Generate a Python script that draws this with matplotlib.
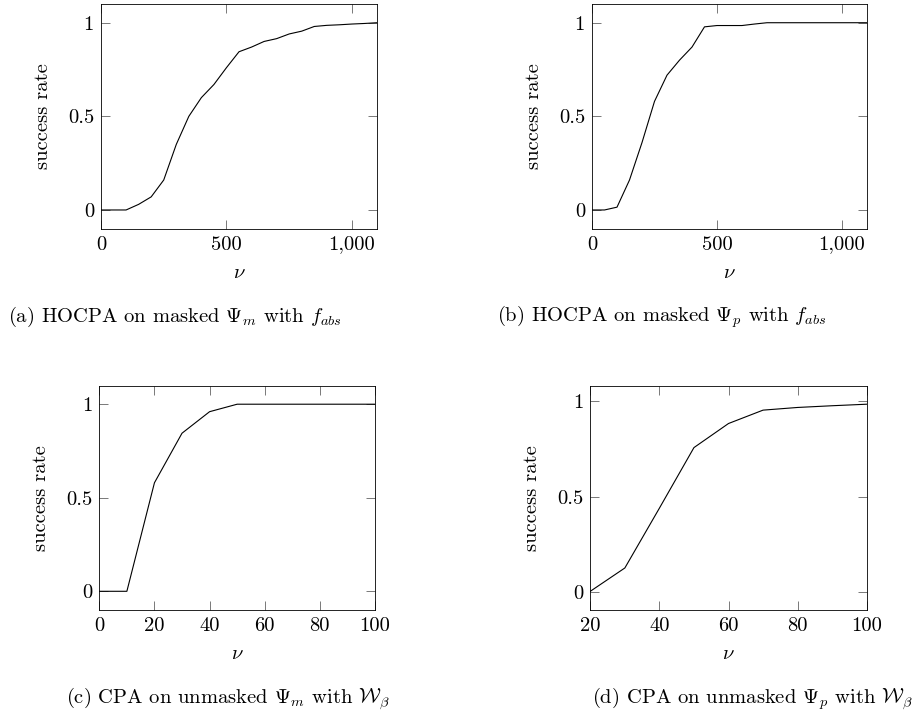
import matplotlib
matplotlib.use("Agg")
import matplotlib.pyplot as plt
import numpy as np

plt.rcParams['font.family'] = ['cmr10', 'DejaVu Serif']
plt.rcParams['mathtext.fontset'] = 'cm'
plt.rcParams['axes.unicode_minus'] = False
plt.rcParams['axes.formatter.use_mathtext'] = True

FS = 14.8

# ---- data ----
nu_a = [0, 50, 100, 150, 200, 250, 300, 350, 400, 450, 500, 550, 600, 650, 700,
        750, 800, 850, 900, 950, 1000, 1050, 1100]
sr_a = [0, 0, 0, 0.03, 0.07, 0.16, 0.35, 0.50, 0.60, 0.67, 0.76, 0.845, 0.87, 0.90,
        0.915, 0.94, 0.955, 0.98, 0.986, 0.989, 0.993, 0.996, 1.0]

nu_b = [0, 50, 100, 150, 200, 250, 300, 350, 400, 450, 500, 550, 600, 650, 700,
        750, 800, 850, 900, 950, 1000, 1050, 1100]
sr_b = [0, 0, 0.015, 0.16, 0.36, 0.58, 0.72, 0.80, 0.87, 0.978, 0.985, 0.985, 0.985,
        0.993, 1.0, 1.0, 1.0, 1.0, 1.0, 1.0, 1.0, 1.0, 1.0]

nu_c = [0, 10, 20, 30, 40, 50, 60, 70, 80, 90, 100]
sr_c = [0, 0, 0.58, 0.845, 0.96, 1.0, 1.0, 1.0, 1.0, 1.0, 1.0]

nu_d = [20, 30, 40, 50, 60, 70, 80, 90, 100]
sr_d = [0.005, 0.127, 0.44, 0.757, 0.883, 0.953, 0.967, 0.976, 0.984]

xt_a = [0, 500, 1000]; xtl_a = ["0", "500", "1,000"]
xt_b = [0, 500, 1000]; xtl_b = ["0", "500", "1,000"]
xt_c = [0, 20, 40, 60, 80, 100]; xtl_c = ["0", "20", "40", "60", "80", "100"]
xt_d = [20, 40, 60, 80, 100]; xtl_d = ["20", "40", "60", "80", "100"]
yt = [0, 0.5, 1]; ytl = ["0", "0.5", "1"]

captions = [r"(a) HOCPA on masked $\Psi_m$ with $f_{abs}$",
            r"(b) HOCPA on masked $\Psi_p$ with $f_{abs}$",
            r"(c) CPA on unmasked $\Psi_m$ with $\mathcal{W}_\beta$",
            r"(d) CPA on unmasked $\Psi_p$ with $\mathcal{W}_\beta$"]

W, H = 921, 713
fig = plt.figure(figsize=(W / 100, H / 100), dpi=100)

# axes boxes in pixels: left, top, right, bottom
boxes = [(101, 4, 377, 228.7), (592, 4, 867, 228.7),
         (99.3, 385.5, 375, 610), (590.3, 385.5, 866.7, 610)]
datasets = [(nu_a, sr_a, xt_a, xtl_a, (0, 1100)),
            (nu_b, sr_b, xt_b, xtl_b, (0, 1100)),
            (nu_c, sr_c, xt_c, xtl_c, (0, 100)),
            (nu_d, sr_d, xt_d, xtl_d, (20, 100))]

for (l, t, r, b), (x, y, xt, xtl, xl) in zip(boxes, datasets):
    ax = fig.add_axes([l / W, 1 - b / H, (r - l) / W, (b - t) / H])
    ax.plot(x, y, color='black', lw=0.8)
    ax.set_xlim(*xl)
    lo, hi = min(y), max(y)
    rng = hi - lo
    ax.set_ylim(lo - 0.1 * rng, hi + 0.1 * rng)
    ax.set_xticks(xt)
    ax.set_xticklabels(xtl)
    ax.set_yticks(yt)
    ax.set_yticklabels(ytl)
    ax.tick_params(direction='in', length=6.3, width=0.5, top=True, right=True,
                   labelsize=FS, pad=5, color='#444444')
    for s in ax.spines.values():
        s.set_linewidth(0.6)
    ax.set_xlabel(r"$\nu$", fontsize=FS)
    ax.set_ylabel("success rate", fontsize=FS)
    ax.yaxis.set_label_coords(-49 / (r - l), 0.5)
    ax.xaxis.set_label_coords(0.5, -35 / (b - t))

cap_pos = [(8, 317), (497, 317), (66, 699), (592, 699)]
for (cx, cy), txt in zip(cap_pos, captions):
    fig.text(cx / W, 1 - cy / H, txt, fontsize=FS, ha='left', va='center')

fig.savefig("out.png", dpi=100)
